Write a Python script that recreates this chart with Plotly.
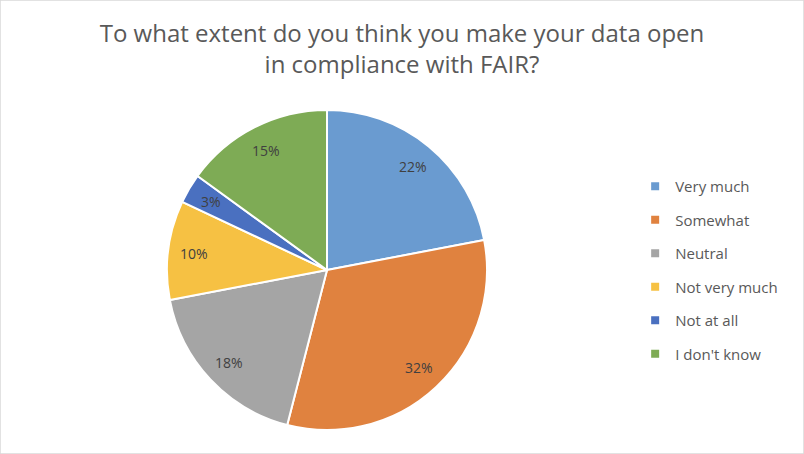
import math
import plotly.graph_objects as go

categories = ["Very much", "Somewhat", "Neutral", "Not very much", "Not at all", "I don't know"]
values = [22, 32, 18, 10, 3, 15]
colors = ["#6A9BD0", "#E0823F", "#A5A5A5", "#F6C143", "#4A70C0", "#7EAB55"]

title_text = "To what extent do you think you make your data open<br>in compliance with FAIR?"

W, H = 804, 454
cx, cy, R = 327, 270, 160
LABEL_R = 0.84
FONT = "Open Sans"

fig = go.Figure()
fig.add_trace(go.Pie(
    labels=categories, values=values, sort=False, direction="clockwise", rotation=0,
    marker=dict(colors=colors, line=dict(color="white", width=2)),
    textinfo="none",
    domain=dict(x=[(cx - R) / W, (cx + R) / W], y=[1 - (cy + R) / H, 1 - (cy - R) / H]),
    showlegend=False, hoverinfo="label+percent",
))

# percentage labels placed along each slice bisector (derived from the values)
total = sum(values)
cum = 0
annotations = []
for v in values:
    mid = (cum + v / 2) / total * 2 * math.pi
    cum += v
    px = cx + LABEL_R * R * math.sin(mid)
    py = cy - LABEL_R * R * math.cos(mid)
    annotations.append(dict(
        x=px / W, y=1 - py / H, xref="paper", yref="paper", showarrow=False,
        text=f"{round(v / total * 100)}%", font=dict(family=FONT, size=14, color="#404040"),
        xanchor="center", yanchor="middle",
    ))

for cat, col in zip(categories, colors):
    fig.add_trace(go.Scatter(
        x=[None], y=[None], mode="markers", name=cat, legendgroup=cat,
        marker=dict(symbol="square", size=8, color=col),
    ))

fig.update_layout(
    width=W, height=H,
    margin=dict(l=0, r=0, t=0, b=0),
    paper_bgcolor="white", plot_bgcolor="white",
    title=dict(text=title_text, x=0.5, xanchor="center", y=0.907, yanchor="middle",
               font=dict(family=FONT, size=24, color="#595959")),
    xaxis=dict(visible=False), yaxis=dict(visible=False),
    legend=dict(x=0.79, y=0.6256, xanchor="left", yanchor="top",
                font=dict(family=FONT, size=15, color="#595959"),
                traceorder="grouped", tracegroupgap=11, itemwidth=30),
    annotations=annotations,
    shapes=[dict(type="rect", xref="paper", yref="paper", x0=0, y0=0, x1=1, y1=1,
                 line=dict(color="#D9D9D9", width=1.5))],
)
fig.write_html("out.html", config={"displayModeBar": False},
               post_script="document.body.style.margin='0';")
